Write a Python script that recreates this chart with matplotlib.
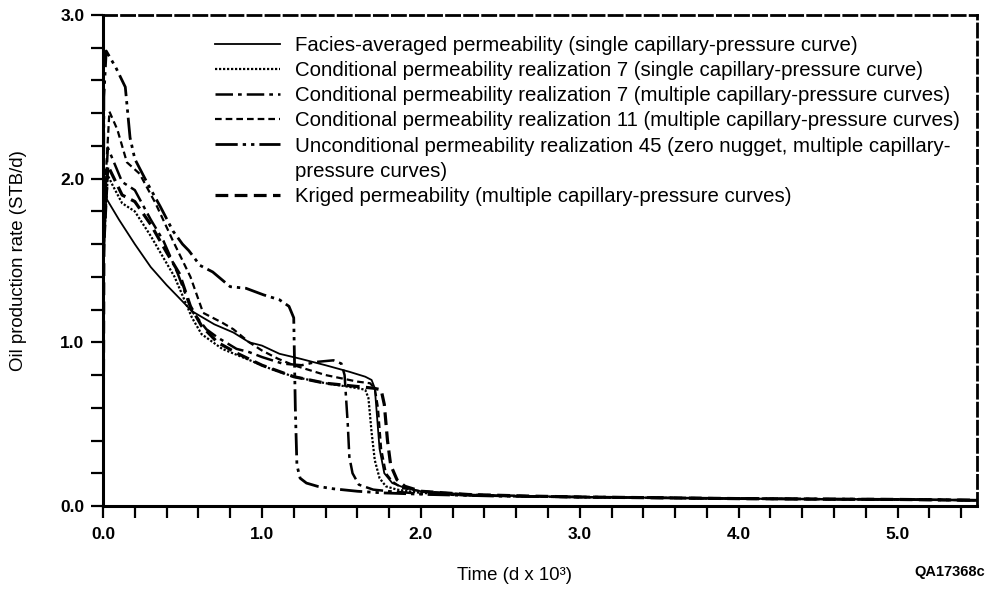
import numpy as np
import matplotlib.pyplot as plt
from matplotlib.ticker import MultipleLocator, FuncFormatter
from matplotlib.lines import Line2D

plt.rcParams['font.family'] = ['Liberation Sans', 'DejaVu Sans']

# facies-averaged permeability, single Pc curve
x_fac = [0, 0.005, 0.02, 0.1, 0.2, 0.3, 0.4, 0.5, 0.56, 0.7, 0.82, 0.92, 1.0, 1.11, 1.24, 1.4,
         1.55, 1.65, 1.69, 1.71, 1.72, 1.74, 1.77, 1.82, 1.9, 2.0, 2.3, 2.7, 3.0, 3.5, 4.0, 4.5, 5.0, 5.5]
y_fac = [0, 1.5, 1.88, 1.75, 1.6, 1.46, 1.35, 1.25, 1.19, 1.11, 1.06, 1.0, 0.98, 0.93, 0.9, 0.86,
         0.82, 0.79, 0.77, 0.72, 0.6, 0.35, 0.2, 0.14, 0.11, 0.09, 0.07, 0.06, 0.055, 0.05, 0.045, 0.042, 0.04, 0.035]

# conditional realization 7, single Pc curve
x_c7s = [0, 0.005, 0.03, 0.06, 0.12, 0.2, 0.3, 0.45, 0.56, 0.62, 0.75, 0.9, 1.05, 1.2, 1.4, 1.6,
         1.65, 1.67, 1.69, 1.71, 1.74, 1.78, 1.85, 2.0, 2.3, 2.7, 3.0, 3.5, 4.0, 4.5, 5.0, 5.5]
y_c7s = [0, 1.6, 2.02, 1.96, 1.85, 1.8, 1.65, 1.4, 1.15, 1.05, 0.96, 0.9, 0.84, 0.79, 0.75, 0.72,
         0.71, 0.66, 0.45, 0.28, 0.17, 0.12, 0.1, 0.08, 0.065, 0.058, 0.054, 0.05, 0.045, 0.042, 0.04, 0.035]

# conditional realization 7, multiple Pc curves
x_c7m = [0, 0.005, 0.03, 0.06, 0.12, 0.2, 0.3, 0.38, 0.47, 0.56, 0.65, 0.72, 0.84, 0.92, 1.0, 1.13,
         1.25, 1.34, 1.45, 1.5, 1.52, 1.54, 1.55, 1.57, 1.61, 1.7, 1.8, 2.0, 2.3, 2.7, 3.0, 3.5, 4.0, 4.5, 5.0, 5.5]
y_c7m = [0, 1.7, 2.19, 2.12, 1.98, 1.93, 1.75, 1.62, 1.42, 1.19, 1.08, 1.03, 0.96, 0.94, 0.91, 0.87,
         0.86, 0.88, 0.89, 0.87, 0.8, 0.5, 0.3, 0.2, 0.13, 0.1, 0.09, 0.075, 0.065, 0.058, 0.054, 0.05, 0.045, 0.042, 0.04, 0.035]

# conditional realization 11, multiple Pc curves
x_c11 = [0, 0.005, 0.04, 0.09, 0.12, 0.15, 0.23, 0.33, 0.44, 0.5, 0.55, 0.63, 0.75, 0.82, 0.92, 1.0,
         1.1, 1.2, 1.3, 1.4, 1.5, 1.6, 1.68, 1.71, 1.73, 1.75, 1.78, 1.82, 1.88, 2.0, 2.3, 2.7, 3.0, 3.5, 4.0, 4.5, 5.0, 5.5]
y_c11 = [0, 1.8, 2.41, 2.3, 2.2, 2.1, 2.03, 1.85, 1.62, 1.5, 1.4, 1.18, 1.12, 1.08, 1.0, 0.95,
         0.9, 0.86, 0.83, 0.8, 0.78, 0.76, 0.75, 0.72, 0.6, 0.35, 0.2, 0.15, 0.11, 0.09, 0.07, 0.06, 0.055, 0.05, 0.045, 0.042, 0.04, 0.035]

# unconditional realization 45
x_u45 = [0, 0.005, 0.02, 0.08, 0.14, 0.17, 0.2, 0.28, 0.36, 0.44, 0.5, 0.54, 0.61, 0.69, 0.8, 0.9,
         1.01, 1.11, 1.17, 1.2, 1.21, 1.22, 1.24, 1.28, 1.35, 1.45, 1.6, 1.76, 2.06, 2.5, 3.0, 4.0, 5.0, 5.5]
y_u45 = [0, 2.5, 2.78, 2.68, 2.56, 2.25, 2.12, 1.97, 1.83, 1.68, 1.6, 1.56, 1.47, 1.43, 1.34, 1.33,
         1.29, 1.26, 1.22, 1.15, 0.6, 0.25, 0.17, 0.14, 0.12, 0.105, 0.09, 0.08, 0.07, 0.06, 0.055, 0.045, 0.04, 0.035]

# kriged permeability
x_krg = [0, 0.005, 0.03, 0.07, 0.12, 0.2, 0.3, 0.4, 0.48, 0.55, 0.62, 0.72, 0.85, 1.0, 1.2, 1.4,
         1.6, 1.7, 1.75, 1.77, 1.79, 1.81, 1.85, 1.9, 2.0, 2.3, 2.7, 3.0, 3.5, 4.0, 4.5, 5.0, 5.5]
y_krg = [0, 1.6, 2.08, 2.0, 1.9, 1.86, 1.72, 1.55, 1.42, 1.22, 1.1, 1.0, 0.93, 0.86, 0.79, 0.75,
         0.73, 0.72, 0.71, 0.62, 0.4, 0.25, 0.16, 0.12, 0.09, 0.07, 0.06, 0.055, 0.05, 0.045, 0.042, 0.04, 0.035]

labels = ['Facies-averaged permeability (single capillary-pressure curve)',
          'Conditional permeability realization 7 (single capillary-pressure curve)',
          'Conditional permeability realization 7 (multiple capillary-pressure curves)',
          'Conditional permeability realization 11 (multiple capillary-pressure curves)',
          'Unconditional permeability realization 45 (zero nugget, multiple capillary-',
          'pressure curves)',
          'Kriged permeability (multiple capillary-pressure curves)']

fig = plt.figure(figsize=(9.87, 5.9), dpi=100)
ax = fig.add_axes([0.1044, 0.1424, 0.8855, 0.8322])

k = 'black'
l1, = ax.plot(x_fac, y_fac, color=k, lw=1.3, ls='-')
l2, = ax.plot(x_c7s, y_c7s, color=k, lw=1.6, ls=(0, (1, 0.8)))
l3, = ax.plot(x_c7m, y_c7m, color=k, lw=1.8, ls=(0, (7, 2, 1.5, 2)))
l4, = ax.plot(x_c11, y_c11, color=k, lw=1.6, ls=(0, (3, 1.8)))
l5, = ax.plot(x_u45, y_u45, color=k, lw=2.0, ls=(0, (8, 1.8, 1.2, 1.8, 1.2, 1.8)))
l6, = ax.plot(x_krg, y_krg, color=k, lw=2.3, ls=(0, (4, 2)))
blank = Line2D([], [], color='none')

ax.set_xlim(0, 5.5)
ax.set_ylim(0, 3.0)

ax.xaxis.set_major_locator(MultipleLocator(1.0))
ax.xaxis.set_minor_locator(MultipleLocator(0.2))
ax.yaxis.set_major_locator(MultipleLocator(1.0))
ax.yaxis.set_minor_locator(MultipleLocator(0.2))
ax.xaxis.set_major_formatter(FuncFormatter(lambda v, p: f'{v:.1f}'))
ax.yaxis.set_major_formatter(FuncFormatter(lambda v, p: f'{v:.1f}'))
ax.tick_params(which='both', direction='out', length=8.5, width=1.6, top=False, right=False)
ax.tick_params(axis='x', which='major', pad=6.5, labelsize=12.5)
ax.tick_params(axis='y', which='major', pad=5, labelsize=12.5)
for t in ax.get_xticklabels() + ax.get_yticklabels():
    t.set_fontweight('bold')

for s in ['left', 'bottom']:
    ax.spines[s].set_linewidth(2.2)
for s in ['top', 'right']:
    ax.spines[s].set_linewidth(2.0)
    ax.spines[s].set_linestyle((0, (4.7, 1.8)))

ax.set_xlabel('Time (d x 10³)', fontsize=13.4)
ax.xaxis.set_label_coords(0.471, -0.125)
ax.set_ylabel('Oil production rate (STB/d)', fontsize=13.4)
ax.yaxis.set_label_coords(-0.087, 0.5)

ax.legend([l1, l2, l3, l4, l5, blank, l6], labels, loc='upper left',
          bbox_to_anchor=(0.128, 0.957), frameon=False, borderpad=0, borderaxespad=0,
          fontsize=14.7, handlelength=3.2, handletextpad=0.72, labelspacing=0.3)

fig.text(0.998, 0.0305, 'QA17368c', ha='right', va='center', fontsize=10.5, fontweight='bold')

fig.savefig('out.png', dpi=100)
